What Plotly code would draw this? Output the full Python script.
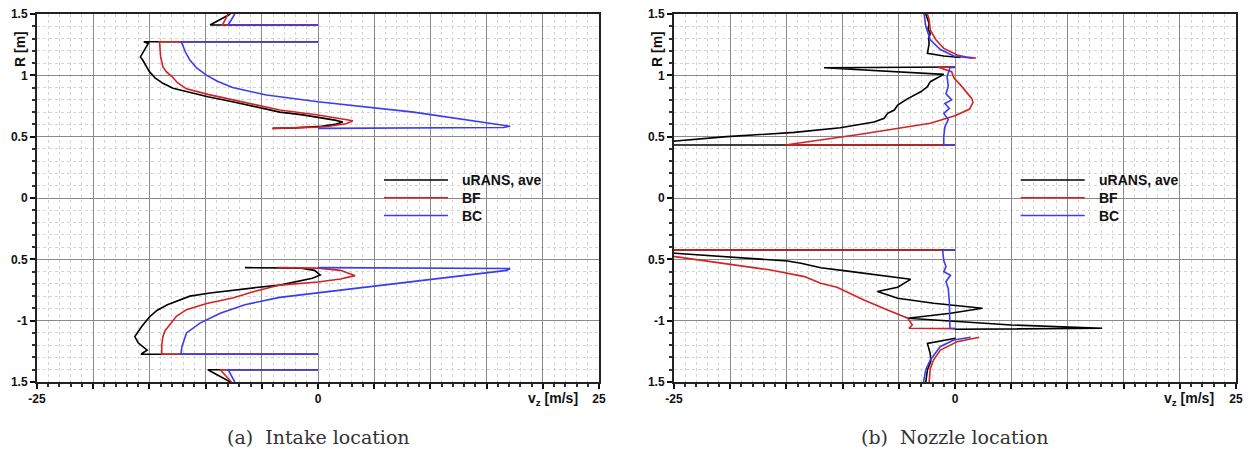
import plotly.graph_objects as go

# ---------------- data (v_z [m/s], R [m]); None separates line pieces ----------------
# (a) Intake location
intake_urans_v = [0, -9.6, -7.8, None,
                  0, -15.5, -15.1, -15.4, -15.8, -15.6, -15.3, -15.0, -14.5, -13.8, -12.9, -11.7, -9.8, -7.6, -5.5, -3.4, -1.5, 0, 1.5, 2.2, 1.5, 0.3, -2.0, -4.0, None,
                  -6.5, -1.5, -0.3, 0.2, -0.5, -3.4, -5.5, -7.6, -9.6, -11.4, -13.4, -14.3, -15.0, -15.7, -16.3, -16.0, -15.2, -15.7, -15.7, 0, None,
                  0, -9.8, -7.8]
intake_urans_r = [1.41, 1.41, 1.5, None,
                  1.274, 1.274, 1.26, 1.21, 1.15, 1.125, 1.075, 1.03, 0.98, 0.935, 0.895, 0.866, 0.825, 0.785, 0.745, 0.70, 0.68, 0.66, 0.635, 0.62, 0.60, 0.585, 0.572, 0.568, None,
                  -0.568, -0.572, -0.59, -0.628, -0.655, -0.71, -0.73, -0.75, -0.775, -0.80, -0.87, -0.915, -0.97, -1.05, -1.13, -1.18, -1.24, -1.27, -1.274, -1.274, None,
                  -1.40, -1.40, -1.5]

intake_bf_v = [0, -8.5, -8.0, None,
               0, -14.1, -14.0, -13.8, -13.5, -13.0, -12.5, -11.7, -9.8, -7.6, -5.5, -3.4, 0, 2.0, 3.1, 2.5, 1.0, 0, -4.1, None,
               -3.6, 0, 2.0, 3.3, 2.0, 0, -3.4, -5.6, -7.6, -9.9, -11.7, -12.6, -13.2, -13.6, -13.8, -13.9, -13.9, 0, None,
               0, -8.7, -7.7]
intake_bf_r = [1.41, 1.41, 1.5, None,
               1.274, 1.274, 1.15, 1.07, 1.03, 0.99, 0.94, 0.89, 0.845, 0.80, 0.76, 0.717, 0.676, 0.65, 0.63, 0.605, 0.585, 0.578, 0.568, None,
               -0.568, -0.572, -0.59, -0.633, -0.66, -0.685, -0.71, -0.76, -0.815, -0.86, -0.91, -0.965, -1.035, -1.08, -1.13, -1.2, -1.274, -1.274, None,
               -1.40, -1.40, -1.5]

intake_bc_v = [0, -8.0, -7.4, None,
               0, -12.2, -12.1, -11.8, -11.4, -10.8, -9.9, -8.9, -7.6, -6.0, -4.6, -3.4, 0, 8.5, 14.0, 17.1, 16.5, 10.0, 0, None,
               0, 17.1, 16.8, 8.5, 0.2, -3.4, -6.5, -8.7, -10.5, -11.7, -12.1, -12.2, 0, None,
               0, -8.0, -7.4]
intake_bc_r = [1.41, 1.41, 1.5, None,
               1.274, 1.274, 1.26, 1.19, 1.125, 1.06, 1.0, 0.95, 0.90, 0.865, 0.84, 0.826, 0.785, 0.70, 0.63, 0.585, 0.575, 0.57, 0.568, None,
               -0.568, -0.575, -0.59, -0.682, -0.77, -0.81, -0.87, -0.94, -1.02, -1.10, -1.21, -1.274, -1.274, None,
               -1.40, -1.40, -1.5]

# (b) Nozzle location
nozzle_urans_v = [-2.6, -2.5, -2.3, -2.4, -2.2, -2.35, -2.3, -2.45, -1.0, 0.5, None,
                  0, -29.0, -28.0, -24.85, -20.3, -14.3, -10.2, -7.2, -6.3, -6.0, -5.4, -5.1, -4.2, -3.05, -2.45, -2.2, -1.0, -11.65, -1.6, 0, None,
                  0, -29.0, -28.5, -24.9, -19.4, -14.9, -13.7, -11.95, -9.9, -4.2, -3.95, -5.1, -6.9, -5.1, -1.9, 2.45, -0.4, -4.2, -1.0, 5.0, 13.1, 0, None,
                  0.05, -2.45, -2.2, -2.15, -2.45, -2.6]
nozzle_urans_r = [1.5, 1.47, 1.42, 1.38, 1.34, 1.30, 1.26, 1.18, 1.157, 1.145, None,
                  0.432, 0.432, 0.44, 0.465, 0.50, 0.535, 0.573, 0.62, 0.65, 0.69, 0.717, 0.758, 0.81, 0.866, 0.907, 0.948, 1.008, 1.062, 1.068, 1.068, None,
                  -0.424, -0.424, -0.43, -0.451, -0.483, -0.513, -0.532, -0.568, -0.592, -0.655, -0.663, -0.728, -0.763, -0.817, -0.858, -0.899, -0.94, -0.98, -1.00, -1.035, -1.062, -1.07, None,
                  -1.143, -1.185, -1.27, -1.33, -1.40, -1.5]

nozzle_bf_v = [-2.45, -2.3, -2.2, -1.7, -1.0, 0.2, 1.0, 1.85, None,
               0, -15.1, -8.4, -2.2, 0.0, 1.3, 1.6, 1.5, 0.6, -0.1, -0.3, -1.5, 0, None,
               0, -29.0, -28.5, -24.9, -20.8, -16.4, -13.4, -11.95, -10.5, -8.1, -6.0, -4.2, -3.8, -4.1, 0, None,
               2.15, 0.2, -1.3, -1.9, -2.2, -2.3]
nozzle_bf_r = [1.5, 1.45, 1.37, 1.29, 1.22, 1.165, 1.15, 1.14, None,
               0.432, 0.432, 0.52, 0.61, 0.67, 0.725, 0.78, 0.81, 0.91, 0.98, 1.03, 1.065, 1.068, None,
               -0.424, -0.424, -0.432, -0.478, -0.532, -0.587, -0.641, -0.695, -0.728, -0.831, -0.913, -0.98, -1.035, -1.062, -1.065, None,
               -1.135, -1.171, -1.24, -1.32, -1.39, -1.5]

nozzle_bc_v = [-2.75, -2.6, -2.2, -1.3, -0.1, 1.55, None,
               0, -1.0, -1.0, -0.9, -0.6, -1.0, -0.5, -0.9, -0.3, -0.8, -0.6, -0.7, -0.45, 0, None,
               0, -1.1, -1.0, -0.8, -1.0, -0.4, -0.8, -0.6, -0.5, -0.5, -0.45, 0, None,
               1.4, -0.1, -1.3, -2.2, -2.6, -2.8]
nozzle_bc_r = [1.5, 1.40, 1.29, 1.21, 1.157, 1.14, None,
               0.432, 0.432, 0.50, 0.58, 0.64, 0.69, 0.73, 0.77, 0.80, 0.85, 0.91, 0.99, 1.062, 1.065, None,
               -0.424, -0.424, -0.51, -0.56, -0.60, -0.63, -0.68, -0.74, -0.85, -0.95, -1.062, -1.065, None,
               -1.135, -1.157, -1.21, -1.32, -1.40, -1.5]

series_names = ["uRANS, ave", "BF", "BC"]
series_colors = ["#000000", "#d42222", "#3b3bf2"]

x_tickvals = [-25, -20, -15, -10, -5, 0, 5, 10, 15, 20, 25]
x_ticktext = ["-25", "", "", "", "", "0", "", "", "", "", "25"]
y_tickvals = [-1.5, -1.0, -0.5, 0.0, 0.5, 1.0, 1.5]
y_ticktext = ["1.5", "-1", "0.5", "0", "0.5", "1", "1.5"]
captions = ["(a)  Intake location", "(b)  Nozzle location"]

# ---------------- figure ----------------
W, H = 1249, 453
def px(x):
    return x / W
def py(y):
    return 1 - y / H

fig = go.Figure()
panels = [
    ("x", "y", [(intake_urans_v, intake_urans_r), (intake_bf_v, intake_bf_r), (intake_bc_v, intake_bc_r)]),
    ("x2", "y2", [(nozzle_urans_v, nozzle_urans_r), (nozzle_bf_v, nozzle_bf_r), (nozzle_bc_v, nozzle_bc_r)]),
]
for xa, ya, data in panels:
    for (v, r), name, col in zip(data, series_names, series_colors):
        fig.add_trace(go.Scatter(x=v, y=r, mode="lines", name=name, xaxis=xa, yaxis=ya,
                                 line=dict(color=col, width=1.6),
                                 showlegend=False, connectgaps=False))

tickfont = dict(family="Liberation Sans", size=12, color="#111111", weight="bold")
def xaxis(domain, anchor):
    return dict(domain=domain, anchor=anchor, range=[-25, 25], tickmode="array",
                tickvals=x_tickvals, ticktext=x_ticktext, ticks="outside", ticklen=5,
                tickwidth=1.5, tickcolor="#111", showgrid=True, gridcolor="#8a8a8a", gridwidth=1,
                zeroline=False, showline=True, linecolor="#222", linewidth=2, mirror=True,
                tickfont=tickfont, automargin=False,
                minor=dict(tick0=-25, dtick=1, ticks="outside", ticklen=3, tickcolor="#333",
                           showgrid=True, gridcolor="#d4d4d4", griddash="dot", gridwidth=1))
def yaxis(anchor):
    return dict(domain=[(H - 382) / H, (H - 14) / H], anchor=anchor, range=[-1.5, 1.5],
                tickmode="array", tickvals=y_tickvals, ticktext=y_ticktext, ticks="outside",
                ticklen=5, tickwidth=1.5, tickcolor="#111", showgrid=True, gridcolor="#8a8a8a",
                gridwidth=1, zeroline=False, showline=True, linecolor="#222", linewidth=2,
                mirror=True, tickfont=tickfont, automargin=False,
                minor=dict(tick0=-1.5, dtick=0.1, ticks="outside", ticklen=3, tickcolor="#333",
                           showgrid=True, gridcolor="#d4d4d4", griddash="dot", gridwidth=1))

fig.update_layout(
    width=W, height=H, margin=dict(l=0, r=0, t=0, b=0, autoexpand=False),
    paper_bgcolor="white", plot_bgcolor="white",
    xaxis=xaxis([px(37), px(599)], "y"),
    yaxis=yaxis("x"),
    xaxis2=xaxis([px(674), px(1236)], "y2"),
    yaxis2=yaxis("x2"),
)

annots = []
shapes = []
lab_font = dict(family="Liberation Sans", size=14, color="#111111", weight="bold")
for k, (rx, vzx, capx, legx) in enumerate([(20, 553, 318, 384), (657, 1189, 954, 1020.7)]):
    annots.append(dict(text="R [m]", x=px(rx), y=py(49), xref="paper", yref="paper",
                       xanchor="center", yanchor="middle",
                       textangle=-90, showarrow=False, font=lab_font))
    annots.append(dict(text="v<sub>z</sub> [m/s]", x=px(vzx), y=py(399), xref="paper", yref="paper",
                       xanchor="center", yanchor="middle", showarrow=False, font=lab_font))
    annots.append(dict(text=captions[k], x=px(capx), y=py(437),
                       xref="paper", yref="paper", showarrow=False,
                       xanchor="center", yanchor="middle",
                       font=dict(family="DejaVu Serif", size=19, color="#333333")))
    for i, (name, col) in enumerate(zip(series_names, series_colors)):
        yy = 180 + i * 17.75
        shapes.append(dict(type="line", xref="paper", yref="paper", x0=px(legx), x1=px(legx + 64),
                           y0=py(yy), y1=py(yy), line=dict(color=col, width=1.6)))
        annots.append(dict(text=name, x=px(legx + 76), y=py(yy), xref="paper", yref="paper",
                           xanchor="left", yanchor="middle", showarrow=False, font=lab_font))

fig.update_layout(annotations=annots, shapes=shapes)
fig.write_html("out.html")
